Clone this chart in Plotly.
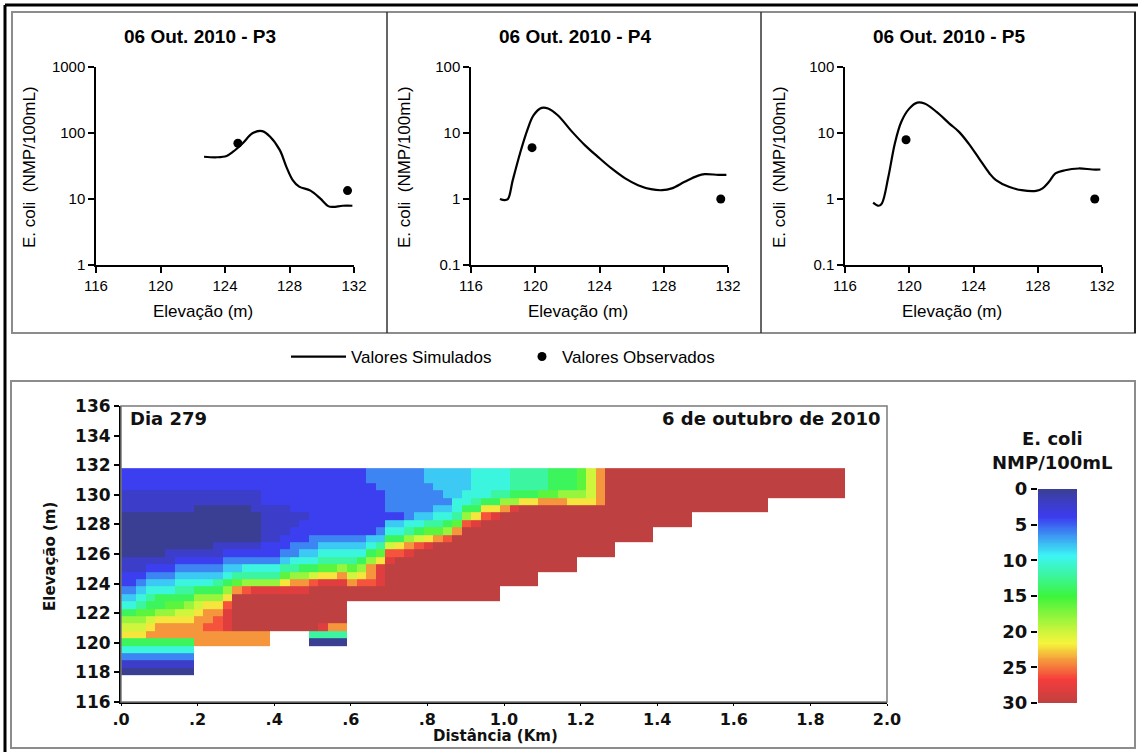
import numpy as np
import plotly.graph_objects as go

W, H = 1138, 752

# ---------------- vertical profiles: simulated curve and observed points ----------------
p3_elev = [122.7, 123.5, 124.1, 124.5, 125.1, 125.7, 126.3, 126.8, 127.4, 127.8,
           128.2, 128.6, 129.3, 129.9, 130.4, 130.7, 131.3, 131.9]
p3_sim = [43.7, 42.9, 44.9, 52, 70, 99, 107, 88, 55, 31,
          19.4, 15.4, 13.4, 10.2, 7.8, 7.6, 7.9, 7.9]
p3_obs_elev = [124.8, 131.6]
p3_obs = [70, 13.4]

p4_elev = [117.8, 118.1, 118.3, 118.6, 119.05, 119.5, 119.9, 120.4, 120.8, 121.4,
           122.3, 123.1, 123.9, 124.75, 125.6, 126.4, 127.2, 127.9, 128.5, 129.3,
           130.1, 130.55, 131.4, 131.9]
p4_sim = [1.0, 0.96, 1.0, 1.93, 4.9, 11, 18.6, 24, 23.5, 18.6,
          10.4, 6.5, 4.35, 2.9, 2.05, 1.62, 1.41, 1.36, 1.45, 1.82,
          2.24, 2.38, 2.32, 2.32]
p4_obs_elev = [119.8, 131.55]
p4_obs = [6.0, 1.0]

p5_elev = [117.75, 118.1, 118.3, 118.7, 119.1, 119.5, 120.0, 120.5, 120.95, 121.7,
           122.5, 123.1, 123.7, 124.35, 125.0, 125.4, 126.2, 127.0, 127.9, 128.3,
           128.7, 129.1, 129.7, 130.55, 131.4, 131.9]
p5_sim = [0.88, 0.79, 0.86, 2.17, 6.9, 14.7, 23.4, 28.8, 27.9, 20.9,
          13.9, 10.4, 6.9, 4.1, 2.44, 1.93, 1.53, 1.36, 1.33, 1.45,
          1.82, 2.44, 2.73, 2.9, 2.8, 2.8]
p5_obs_elev = [119.8, 131.55]
p5_obs = [7.9, 1.0]

panel_titles = ["06 Out. 2010 - P3", "06 Out. 2010 - P4", "06 Out. 2010 - P5"]
elev_ticks = [116, 120, 124, 128, 132]

# ---------------- longitudinal section (day 279) ----------------
# Each string is one model column, read from the surface (131.8 m) downward in 0.5 m layers;
# its length is the number of wet layers. Each hex digit h stands for 2*h NMP/100mL.
ecoli_columns = [
    "222111000000112234579ab75310",
    "222111000000112234579ab75310",
    "222111000000112345689ab75310",
    "22211100000012345678abc75310",
    "22211100000012345779bcc75310",
    "22211100000112345789bcc75310",
    "2221110000012345678abcc75310",
    "2221110000012345679abcc75310",
    "222110000001234579abcccc",
    "222110000001234579bccdcc",
    "222110000011234679bcddcc",
    "22211000001234579bdeeecc",
    "2221100000123468cfffffcc",
    "2221100000123569dfffffcc",
    "2221110000123569efffffcc",
    "2222211111223569efffffcc",
    "2222211111223569efffff",
    "222221111223468befffff",
    "222222112233569cefffff",
    "222222122234579cefffff",
    "22222222233457adffffff60",
    "22222222234568befffffe60",
    "22222222234568befffffc60",
    "22222222234569cefffffc60",
    "22222222234568acff",
    "22222222234579bdff",
    "3322222224579ccdff",
    "333222223468beeeff",
    "3333332457adefffff",
    "3333332457bdffffff",
    "3333333569ceffffff",
    "333333457adfffffff",
    "443333468befffffff",
    "444334568cffffffff",
    "444434579dffffffff",
    "44445568cfffffffff",
    "4445579dffffffffff",
    "555567beffffffffff",
    "55557bdfffffffffff",
    "55567befffffffffff",
    "55569cffffffffff",
    "66679effffffffff",
    "6667bfffffffffff",
    "6667bfffffffffff",
    "6668cfffffffff",
    "7778cfffffffff",
    "7779cfffffffff",
    "7779bfffffffff",
    "8889bfffffff",
    "aaaabfffffff",
    "cccccfffffff",
    "ffffffffffff",
    "ffffffffff", "ffffffffff", "ffffffffff", "ffffffffff",
    "ffffffff", "ffffffff", "ffffffff", "ffffffff",
    "ffffff", "ffffff", "ffffff", "ffffff", "ffffff", "ffffff", "ffffff", "ffffff",
    "ffff", "ffff", "ffff", "ffff", "ffff", "ffff", "ffff", "ffff",
]
SURFACE = 131.8      # water surface elevation (m)
DZ = 0.5             # layer thickness (m)
DX = 0.025           # column width (km)
FIRST_DX = 0.015     # first (upstream) column width (km)

dist_ticks = [0.0, 0.2, 0.4, 0.6, 0.8, 1.0, 1.2, 1.4, 1.6, 1.8, 2.0]
dist_ticktext = [".0", ".2", ".4", ".6", ".8", "1.0", "1.2", "1.4", "1.6", "1.8", "2.0"]
sect_elev_ticks = list(range(116, 137, 2))
scale_ticks = [0, 5, 10, 15, 20, 25, 30]

colorscale = [
    [0.00, "#3b3f94"], [0.06, "#3c3dc4"], [0.13, "#3c3cf0"], [0.22, "#3c9af2"],
    [0.31, "#3cf5f5"], [0.40, "#3cf5a0"], [0.50, "#3cf53c"], [0.60, "#96f53c"],
    [0.67, "#d2f53c"], [0.72, "#f5f53c"], [0.80, "#f5963c"], [0.89, "#f53c3c"],
    [1.00, "#bf4040"],
]

# ---------------- grid assembly ----------------
n_layers = max(len(c) for c in ecoli_columns)
n_cols = len(ecoli_columns)
x_edges = [0.0] + [FIRST_DX + DX * k for k in range(n_cols)]
y_edges = [SURFACE - DZ * n_layers + DZ * i for i in range(n_layers + 1)]
z = np.full((n_layers, n_cols), np.nan)
for c, prof in enumerate(ecoli_columns):
    for r, ch in enumerate(prof):
        z[n_layers - 1 - r, c] = 2 * int(ch, 16)


def px_x(p):
    return p / W


def px_y(p):
    return 1 - p / H


fig = go.Figure()

TOP_FONT = "Liberation Sans, Arial, sans-serif"
SECT_FONT = "DejaVu Sans, Verdana, sans-serif"

# ---------------- top row: three profile plots ----------------
profiles = [
    (p3_elev, p3_sim, p3_obs_elev, p3_obs, [0, 3], [1, 10, 100, 1000], ["1", "10", "100", "1000"], 96, 354),
    (p4_elev, p4_sim, p4_obs_elev, p4_obs, [-1, 2], [0.1, 1, 10, 100], ["0.1", "1", "10", "100"], 471, 728),
    (p5_elev, p5_sim, p5_obs_elev, p5_obs, [-1, 2], [0.1, 1, 10, 100], ["0.1", "1", "10", "100"], 845, 1102),
]
panel_centres = [200, 575, 949]
ytitle_x = [30, 405, 780]

for i, (el, sim, oel, obs, yr, yt, ytt, x0, x1) in enumerate(profiles):
    n = i + 1
    xa = "x" if n == 1 else f"x{n}"
    ya = "y" if n == 1 else f"y{n}"
    fig.add_trace(go.Scatter(
        x=el, y=sim, mode="lines", xaxis=xa, yaxis=ya,
        line=dict(color="black", width=2.2, shape="spline", smoothing=1.0),
        name="Valores Simulados", showlegend=(n == 1), legend="legend", hoverinfo="skip"))
    fig.add_trace(go.Scatter(
        x=oel, y=obs, mode="markers", xaxis=xa, yaxis=ya,
        marker=dict(color="black", size=9),
        name="Valores Observados", showlegend=(n == 1), legend="legend2", hoverinfo="skip"))
    suffix = "" if n == 1 else str(n)
    fig.layout["xaxis" + suffix] = dict(
        domain=[px_x(x0), px_x(x1)], range=[116, 132], anchor=ya,
        tickvals=elev_ticks, ticks="outside", ticklen=6, tickwidth=1.5, tickcolor="black",
        showline=True, linecolor="black", linewidth=1.5, showgrid=False, zeroline=False,
        tickfont=dict(family=TOP_FONT, size=15, color="black"))
    fig.layout["yaxis" + suffix] = dict(
        domain=[px_y(265), px_y(67)], range=yr, type="log", anchor=xa,
        tickvals=yt, ticktext=ytt, ticks="outside", ticklen=6, tickwidth=1.5, tickcolor="black",
        showline=True, linecolor="black", linewidth=1.5, showgrid=False, zeroline=False,
        tickfont=dict(family=TOP_FONT, size=15, color="black"))

# ---------------- bottom: longitudinal section ----------------
fig.add_trace(go.Heatmap(
    x=x_edges, y=y_edges, z=z, xaxis="x4", yaxis="y4",
    colorscale=colorscale, zmin=0, zmax=30, showscale=False, hoverinfo="skip"))

fig.layout["xaxis4"] = dict(
    domain=[px_x(121), px_x(887)], range=[0, 2], anchor="y4",
    tickvals=dist_ticks, ticktext=dist_ticktext, ticks="outside", ticklen=2,
    tickcolor="black", showline=True, linecolor="black", linewidth=2,
    showgrid=False, zeroline=False,
    tickfont=dict(family=SECT_FONT, size=16, color="#111", weight="bold"))
fig.layout["yaxis4"] = dict(
    domain=[px_y(702), px_y(406)], range=[116, 136], anchor="x4",
    tickvals=sect_elev_ticks, ticks="outside", ticklen=5, tickwidth=1.5,
    tickcolor="black", showline=True, linecolor="black", linewidth=2,
    showgrid=False, zeroline=False,
    tickfont=dict(family=SECT_FONT, size=17, color="#111", weight="bold"))

# colour key ramp (0 at the top, 30 at the bottom)
scale_levels = np.linspace(0, 30, 241)
fig.add_trace(go.Heatmap(
    x=[0], y=scale_levels, z=[[v] for v in scale_levels], xaxis="x5", yaxis="y5",
    colorscale=colorscale, zmin=0, zmax=30, showscale=False, zsmooth="best",
    hoverinfo="skip"))
fig.layout["xaxis5"] = dict(domain=[px_x(1038), px_x(1077)], range=[-0.5, 0.5],
                            anchor="y5", visible=False)
fig.layout["yaxis5"] = dict(
    domain=[px_y(703), px_y(489)], range=[30, 0], anchor="x5",
    tickvals=scale_ticks, ticks="outside", ticklen=6, tickwidth=1.5, tickcolor="black",
    showline=False, showgrid=False, zeroline=False,
    tickfont=dict(family=SECT_FONT, size=18, color="#111", weight="bold"))

# ---------------- frames ----------------
shapes = [
    dict(type="line", xref="paper", yref="paper", x0=px_x(5), x1=px_x(1138),
         y0=px_y(5), y1=px_y(5), line=dict(color="black", width=3)),
    dict(type="line", xref="paper", yref="paper", x0=px_x(5), x1=px_x(5),
         y0=px_y(5), y1=px_y(752), line=dict(color="black", width=3)),
    dict(type="rect", xref="paper", yref="paper", x0=px_x(12), x1=px_x(1135),
         y0=px_y(333), y1=px_y(12), line=dict(color="#8c8c8c", width=2)),
    dict(type="line", xref="paper", yref="paper", x0=px_x(1135), x1=px_x(1135),
         y0=px_y(333), y1=px_y(12), line=dict(color="#222", width=2)),
    dict(type="line", xref="paper", yref="paper", x0=px_x(387), x1=px_x(387),
         y0=px_y(333), y1=px_y(12), line=dict(color="#333", width=1.5)),
    dict(type="line", xref="paper", yref="paper", x0=px_x(761), x1=px_x(761),
         y0=px_y(333), y1=px_y(12), line=dict(color="#333", width=1.5)),
    dict(type="rect", xref="paper", yref="paper", x0=px_x(11), x1=px_x(1135),
         y0=px_y(748), y1=px_y(381), line=dict(color="#8c8c8c", width=2)),
    dict(type="rect", xref="x4 domain", yref="y4 domain", x0=0, x1=1, y0=0, y1=1,
         line=dict(color="#7a7a7a", width=1.5)),
]

# ---------------- text ----------------
def label(text, x, y, font, angle=0, xanchor="center"):
    return dict(text=text, x=px_x(x), y=px_y(y), xref="paper", yref="paper",
                xanchor=xanchor, yanchor="middle", textangle=angle,
                showarrow=False, font=font)


ann = []
for t, cx in zip(panel_titles, panel_centres):
    ann.append(label(t, cx, 37, dict(family=TOP_FONT, size=19, color="black", weight="bold")))
    ann.append(label("Elevação (m)", cx + 3, 311, dict(family=TOP_FONT, size=17, color="black")))
for xt in ytitle_x:
    ann.append(label("E. coli  (NMP/100mL)", xt, 167,
                     dict(family=TOP_FONT, size=17, color="black"), angle=-90))

bold18 = dict(family=SECT_FONT, size=18, color="#111", weight="bold")
bold15 = dict(family=SECT_FONT, size=15, color="#111", weight="bold")
ann += [
    label("Dia 279", 128, 418, bold18, xanchor="left"),
    label("6 de outubro de 2010", 883, 418, bold18, xanchor="right"),
    label("Distância (Km)", 495, 736, bold15),
    label("Elevação (m)", 50, 557, bold15, angle=-90),
    label("E. coli", 1052, 438, bold18),
    label("NMP/100mL", 1052, 462, bold18),
]

fig.update_layout(
    template="none",
    width=W, height=H, autosize=False,
    margin=dict(l=0, r=0, t=0, b=0, pad=0, autoexpand=False),
    paper_bgcolor="white", plot_bgcolor="rgba(0,0,0,0)",
    font=dict(family=TOP_FONT, color="black"),
    shapes=shapes, annotations=ann,
    legend=dict(orientation="h", x=px_x(286), xanchor="left", y=px_y(357), yanchor="middle",
                font=dict(family=TOP_FONT, size=17, color="black"), itemwidth=55,
                bgcolor="rgba(0,0,0,0)"),
    legend2=dict(orientation="h", x=px_x(522), xanchor="left", y=px_y(357), yanchor="middle",
                 font=dict(family=TOP_FONT, size=17, color="black"),
                 bgcolor="rgba(0,0,0,0)"),
)

fig.write_html("out.html")
